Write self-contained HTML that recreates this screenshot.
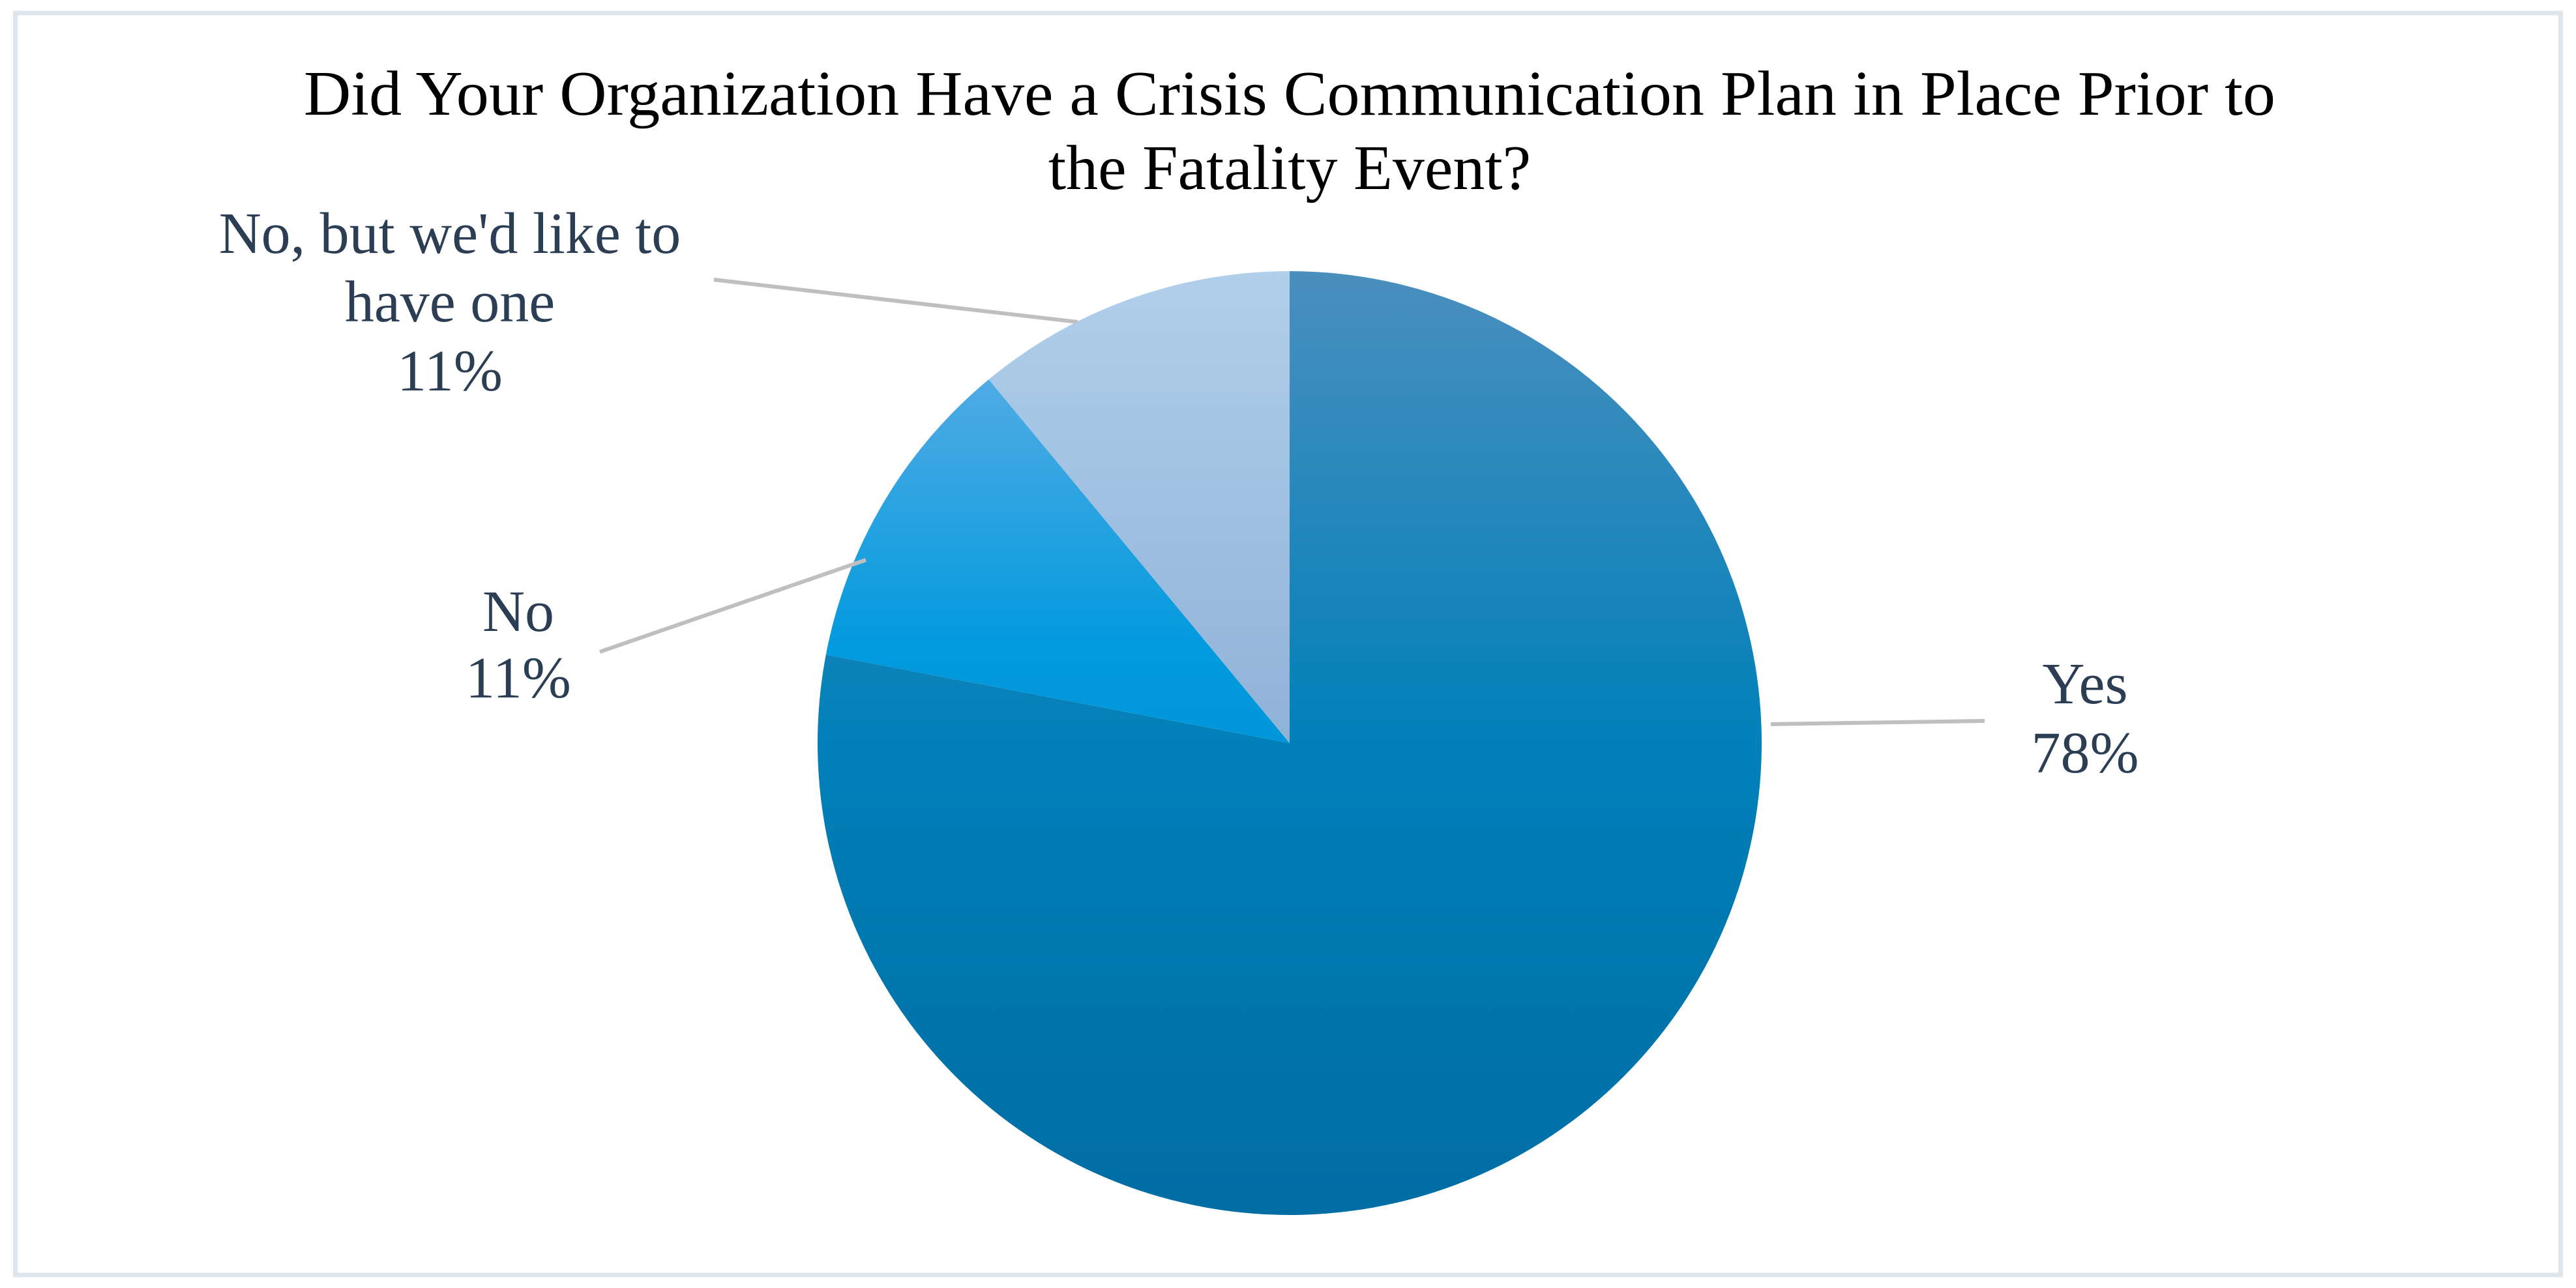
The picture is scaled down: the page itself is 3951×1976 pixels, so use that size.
<!DOCTYPE html>
<html><head><meta charset="utf-8"><style>
html,body{margin:0;padding:0;background:#fff;}
svg{display:block;}
</style></head><body>
<svg id="chart" width="3951" height="1976" viewBox="0 0 3951 1976" xmlns="http://www.w3.org/2000/svg">
<defs>
<linearGradient id="gYes" x1="0" y1="416" x2="0" y2="1864" gradientUnits="userSpaceOnUse"><stop offset="0" stop-color="#4a8fbe"/><stop offset="0.5" stop-color="#0080b9"/><stop offset="1" stop-color="#006da4"/></linearGradient>
<linearGradient id="gNo" x1="0" y1="416" x2="0" y2="1864" gradientUnits="userSpaceOnUse"><stop offset="0" stop-color="#6fb2e6"/><stop offset="0.4" stop-color="#019ade"/><stop offset="1" stop-color="#0082c4"/></linearGradient>
<linearGradient id="gNoBut" x1="0" y1="416" x2="0" y2="1140" gradientUnits="userSpaceOnUse"><stop offset="0" stop-color="#b0cfeb"/><stop offset="1" stop-color="#8fb2d7"/></linearGradient>
</defs>
<rect x="23.5" y="20" width="3904" height="1936" fill="#fff" stroke="#dee5eb" stroke-width="7"/>
<g font-family="'Liberation Serif', 'Times New Roman', serif">
<text x="1978" y="176" font-size="98" text-anchor="middle" textLength="3024" lengthAdjust="spacingAndGlyphs" fill="#000">Did Your Organization Have a Crisis Communication Plan in Place Prior to</text>
<text x="1978" y="290" font-size="98" text-anchor="middle" fill="#000">the Fatality Event?</text>
</g>
<g id="slices"></g>
<g id="leaders" stroke="#bfbfbf" stroke-width="6" fill="none">
<line x1="2716" y1="1111" x2="3044" y2="1106"/>
<line x1="920" y1="1000" x2="1328" y2="859"/>
<line x1="1095" y1="429" x2="1653" y2="494"/>
</g>
<g font-family="'Liberation Serif', 'Times New Roman', serif" font-size="90" fill="#2b3e54" text-anchor="middle">
<text x="3198" y="1079">Yes</text>
<text x="3198" y="1185">78%</text>
<text x="795" y="968">No</text>
<text x="795" y="1070">11%</text>
<text x="690" y="388">No, but we'd like to</text>
<text x="690" y="493">have one</text>
<text x="690" y="599">11%</text>
</g>
</svg>
<script>
const categories = ["Yes", "No", "No, but we'd like to have one"];
const values = [78, 11, 11];
const fills = ["url(#gYes)", "url(#gNo)", "url(#gNoBut)"];
const cx = 1978, cy = 1140, r = 724;
const g = document.getElementById('slices');
const total = values.reduce((a, b) => a + b, 0);
let acc = 0;
function pt(frac) {
  const a = frac * 2 * Math.PI;
  return [cx + r * Math.sin(a), cy - r * Math.cos(a)];
}
values.forEach((v, i) => {
  const s = acc / total, e = (acc + v) / total;
  acc += v;
  const [x1, y1] = pt(s), [x2, y2] = pt(e);
  const large = (e - s) > 0.5 ? 1 : 0;
  const p = document.createElementNS('http://www.w3.org/2000/svg', 'path');
  p.setAttribute('d', `M${cx},${cy} L${x1},${y1} A${r},${r} 0 ${large} 1 ${x2},${y2} Z`);
  p.setAttribute('fill', fills[i]);
  
  
  g.appendChild(p);
});
</script>
</body></html>
